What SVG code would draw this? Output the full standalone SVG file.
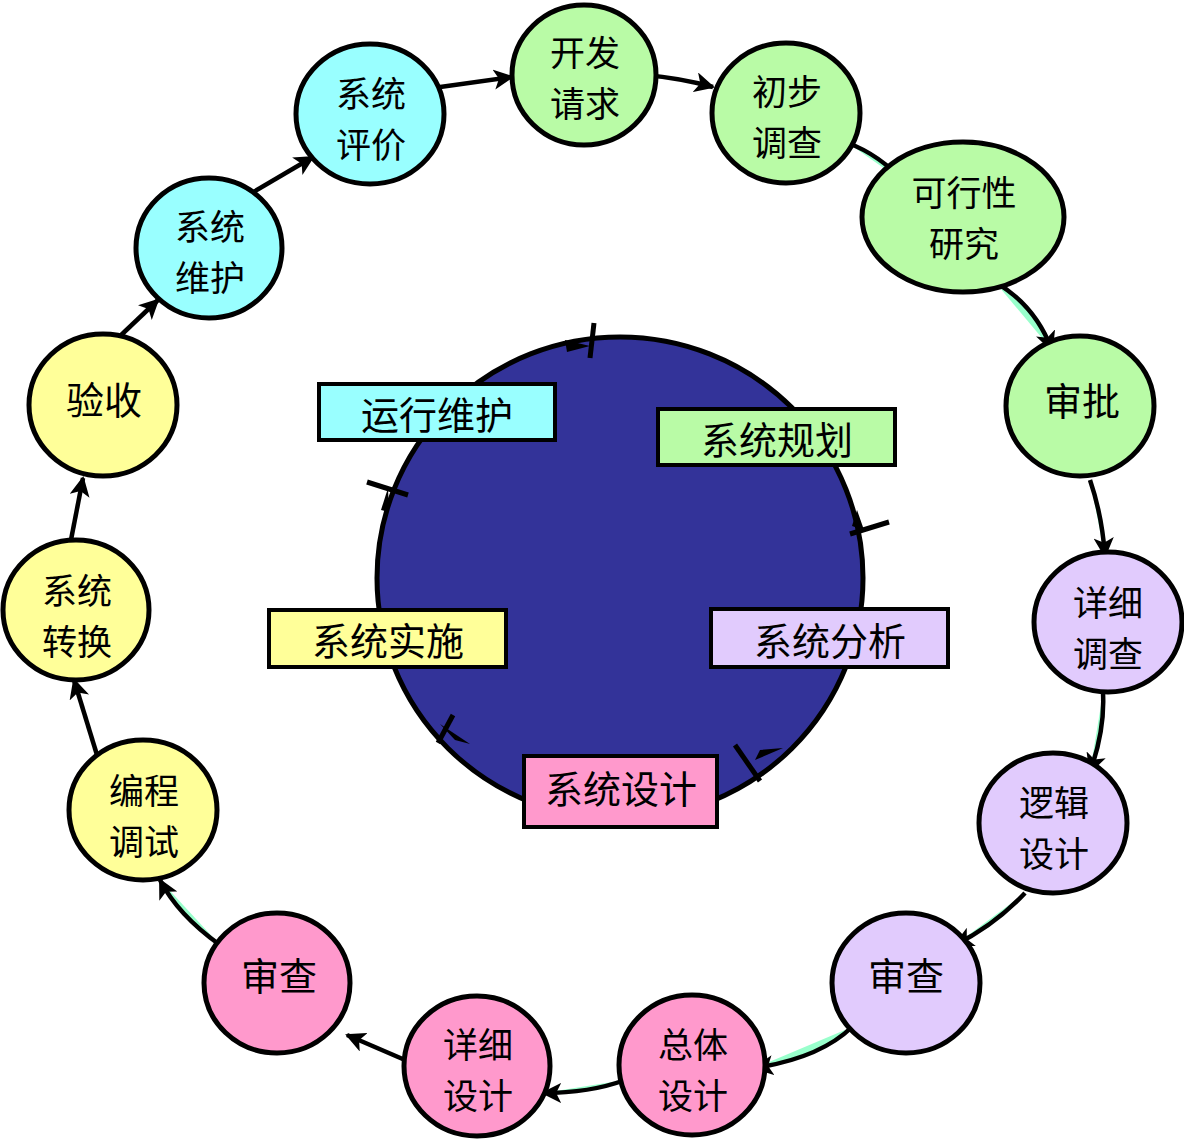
<svg xmlns="http://www.w3.org/2000/svg" width="1184" height="1139" viewBox="0 0 1184 1139">
<style>
.n{stroke:#000;stroke-width:5}
.g{fill:#b9fba6}.p{fill:#e1cbfd}.k{fill:#ff99cc}.y{fill:#ffff99}.c{fill:#99ffff}
.b{stroke:#000;stroke-width:4}
text{font-family:"Noto Sans CJK SC","Noto Sans CJK JP",sans-serif;font-size:38px;fill:#000;text-anchor:middle;dominant-baseline:central}
text.m{font-size:35px}
.e{stroke:#000;stroke-width:4.5;fill:#99ffcc;marker-end:url(#a)}
.s{stroke:#000;stroke-width:4.5;fill:none;marker-end:url(#a)}
.t{stroke:#000;stroke-width:5}
</style>
<defs>
<marker id="a" viewBox="0 0 10 10" refX="9" refY="5" markerWidth="4.5" markerHeight="4.5" orient="auto" markerUnits="strokeWidth">
<path d="M0,0 L10,5 L0,10 L2.5,5 Z" fill="#000"/>
</marker>
</defs>
<rect width="1184" height="1139" fill="#fff"/>
<g id="hub">
<ellipse cx="620" cy="578" rx="243" ry="241" fill="#333399" stroke="#000" stroke-width="5"/>
</g>
<g id="ticks">
<line class="t" x1="594" y1="323" x2="590" y2="358"/>
<path d="M565,340 L590,346 L567,352 Z" fill="#000"/>
<line class="t" x1="367" y1="482" x2="408" y2="495"/>
<path d="M381,510 L388,488 L389,512 Z" fill="#000"/>
<line class="t" x1="850" y1="534" x2="889" y2="522"/>
<path d="M857,510 L864,530 L852,526 Z" fill="#000"/>
<line class="t" x1="438" y1="743" x2="453" y2="715"/>
<path d="M440,724 L470,744 L455,740 Z" fill="#000"/>
<line class="t" x1="735" y1="745" x2="760" y2="781"/>
<path d="M783,748 L755,760 L760,750 Z" fill="#000"/>
</g>
<g id="connectors">
<path class="s" d="M433,88 L512,77"/>
<path class="e" d="M645,75 Q680,78 713,87"/>
<path class="e" d="M848,143 Q880,155 905,183"/>
<path class="e" d="M995,282 Q1035,305 1052,350"/>
<path class="e" d="M1090,480 Q1102,515 1105,556"/>
<path class="e" d="M1103,693 Q1105,730 1090,772"/>
<path class="e" d="M1025,893 Q995,925 955,945"/>
<path class="e" d="M852,1027 Q820,1058 755,1068"/>
<path class="e" d="M625,1080 Q590,1093 543,1093"/>
<path class="s" d="M405,1060 L347,1035"/>
<path class="e" d="M220,945 Q178,915 160,880"/>
<path class="s" d="M97,755 L74,680"/>
<path class="s" d="M70,545 L83,478"/>
<path class="s" d="M118,338 L158,300"/>
<path class="s" d="M245,197 L313,157"/>
</g>
<g id="n1"><ellipse class="n g" cx="584" cy="75" rx="72" ry="70"/><text class="m" x="585" y="50">开发<tspan x="585" dy="51">请求</tspan></text></g>
<g id="n2"><ellipse class="n g" cx="786" cy="113" rx="74" ry="70"/><text class="m" x="787" y="89">初步<tspan x="787" dy="51">调查</tspan></text></g>
<g id="n3"><ellipse class="n g" cx="963" cy="217" rx="101" ry="75"/><text class="m" x="964" y="190">可行性<tspan x="964" dy="51">研究</tspan></text></g>
<g id="n4"><ellipse class="n g" cx="1080" cy="406" rx="74" ry="70"/><text x="1082" y="398">审批</text></g>
<g id="n5"><ellipse class="n p" cx="1108" cy="622" rx="74" ry="70"/><text class="m" x="1108" y="600">详细<tspan x="1108" dy="51">调查</tspan></text></g>
<g id="n6"><ellipse class="n p" cx="1053" cy="823" rx="74" ry="70"/><text class="m" x="1054" y="800">逻辑<tspan x="1054" dy="51">设计</tspan></text></g>
<g id="n7"><ellipse class="n p" cx="906" cy="983" rx="74" ry="70"/><text x="906" y="973">审查</text></g>
<g id="n8"><ellipse class="n k" cx="692" cy="1065" rx="73" ry="70"/><text class="m" x="693" y="1042">总体<tspan x="693" dy="51">设计</tspan></text></g>
<g id="n9"><ellipse class="n k" cx="477" cy="1066" rx="73" ry="70"/><text class="m" x="478" y="1042">详细<tspan x="478" dy="51">设计</tspan></text></g>
<g id="n10"><ellipse class="n k" cx="277" cy="983" rx="73" ry="70"/><text x="279" y="973">审查</text></g>
<g id="n11"><ellipse class="n y" cx="143" cy="810" rx="74" ry="70"/><text class="m" x="144" y="788">编程<tspan x="144" dy="51">调试</tspan></text></g>
<g id="n12"><ellipse class="n y" cx="76" cy="610" rx="73" ry="70"/><text class="m" x="77" y="588">系统<tspan x="77" dy="51">转换</tspan></text></g>
<g id="n13"><ellipse class="n y" cx="103" cy="405" rx="74" ry="71"/><text x="104" y="397">验收</text></g>
<g id="n14"><ellipse class="n c" cx="209" cy="248" rx="73" ry="70"/><text class="m" x="210" y="224">系统<tspan x="210" dy="51">维护</tspan></text></g>
<g id="n15"><ellipse class="n c" cx="370" cy="114" rx="74" ry="70"/><text class="m" x="371" y="91">系统<tspan x="371" dy="51">评价</tspan></text></g>
<g id="b1"><rect class="b c" x="319" y="384" width="236" height="56"/><text x="437" y="412">运行维护</text></g>
<g id="b2"><rect class="b g" x="658" y="409" width="237" height="56"/><text x="777" y="437">系统规划</text></g>
<g id="b3"><rect class="b y" x="269" y="610" width="237" height="57"/><text x="388" y="638">系统实施</text></g>
<g id="b4"><rect class="b p" x="711" y="609" width="237" height="58"/><text x="830" y="638">系统分析</text></g>
<g id="b5"><rect class="b k" x="524" y="756" width="193" height="71"/><text x="621" y="786">系统设计</text></g>
</svg>
